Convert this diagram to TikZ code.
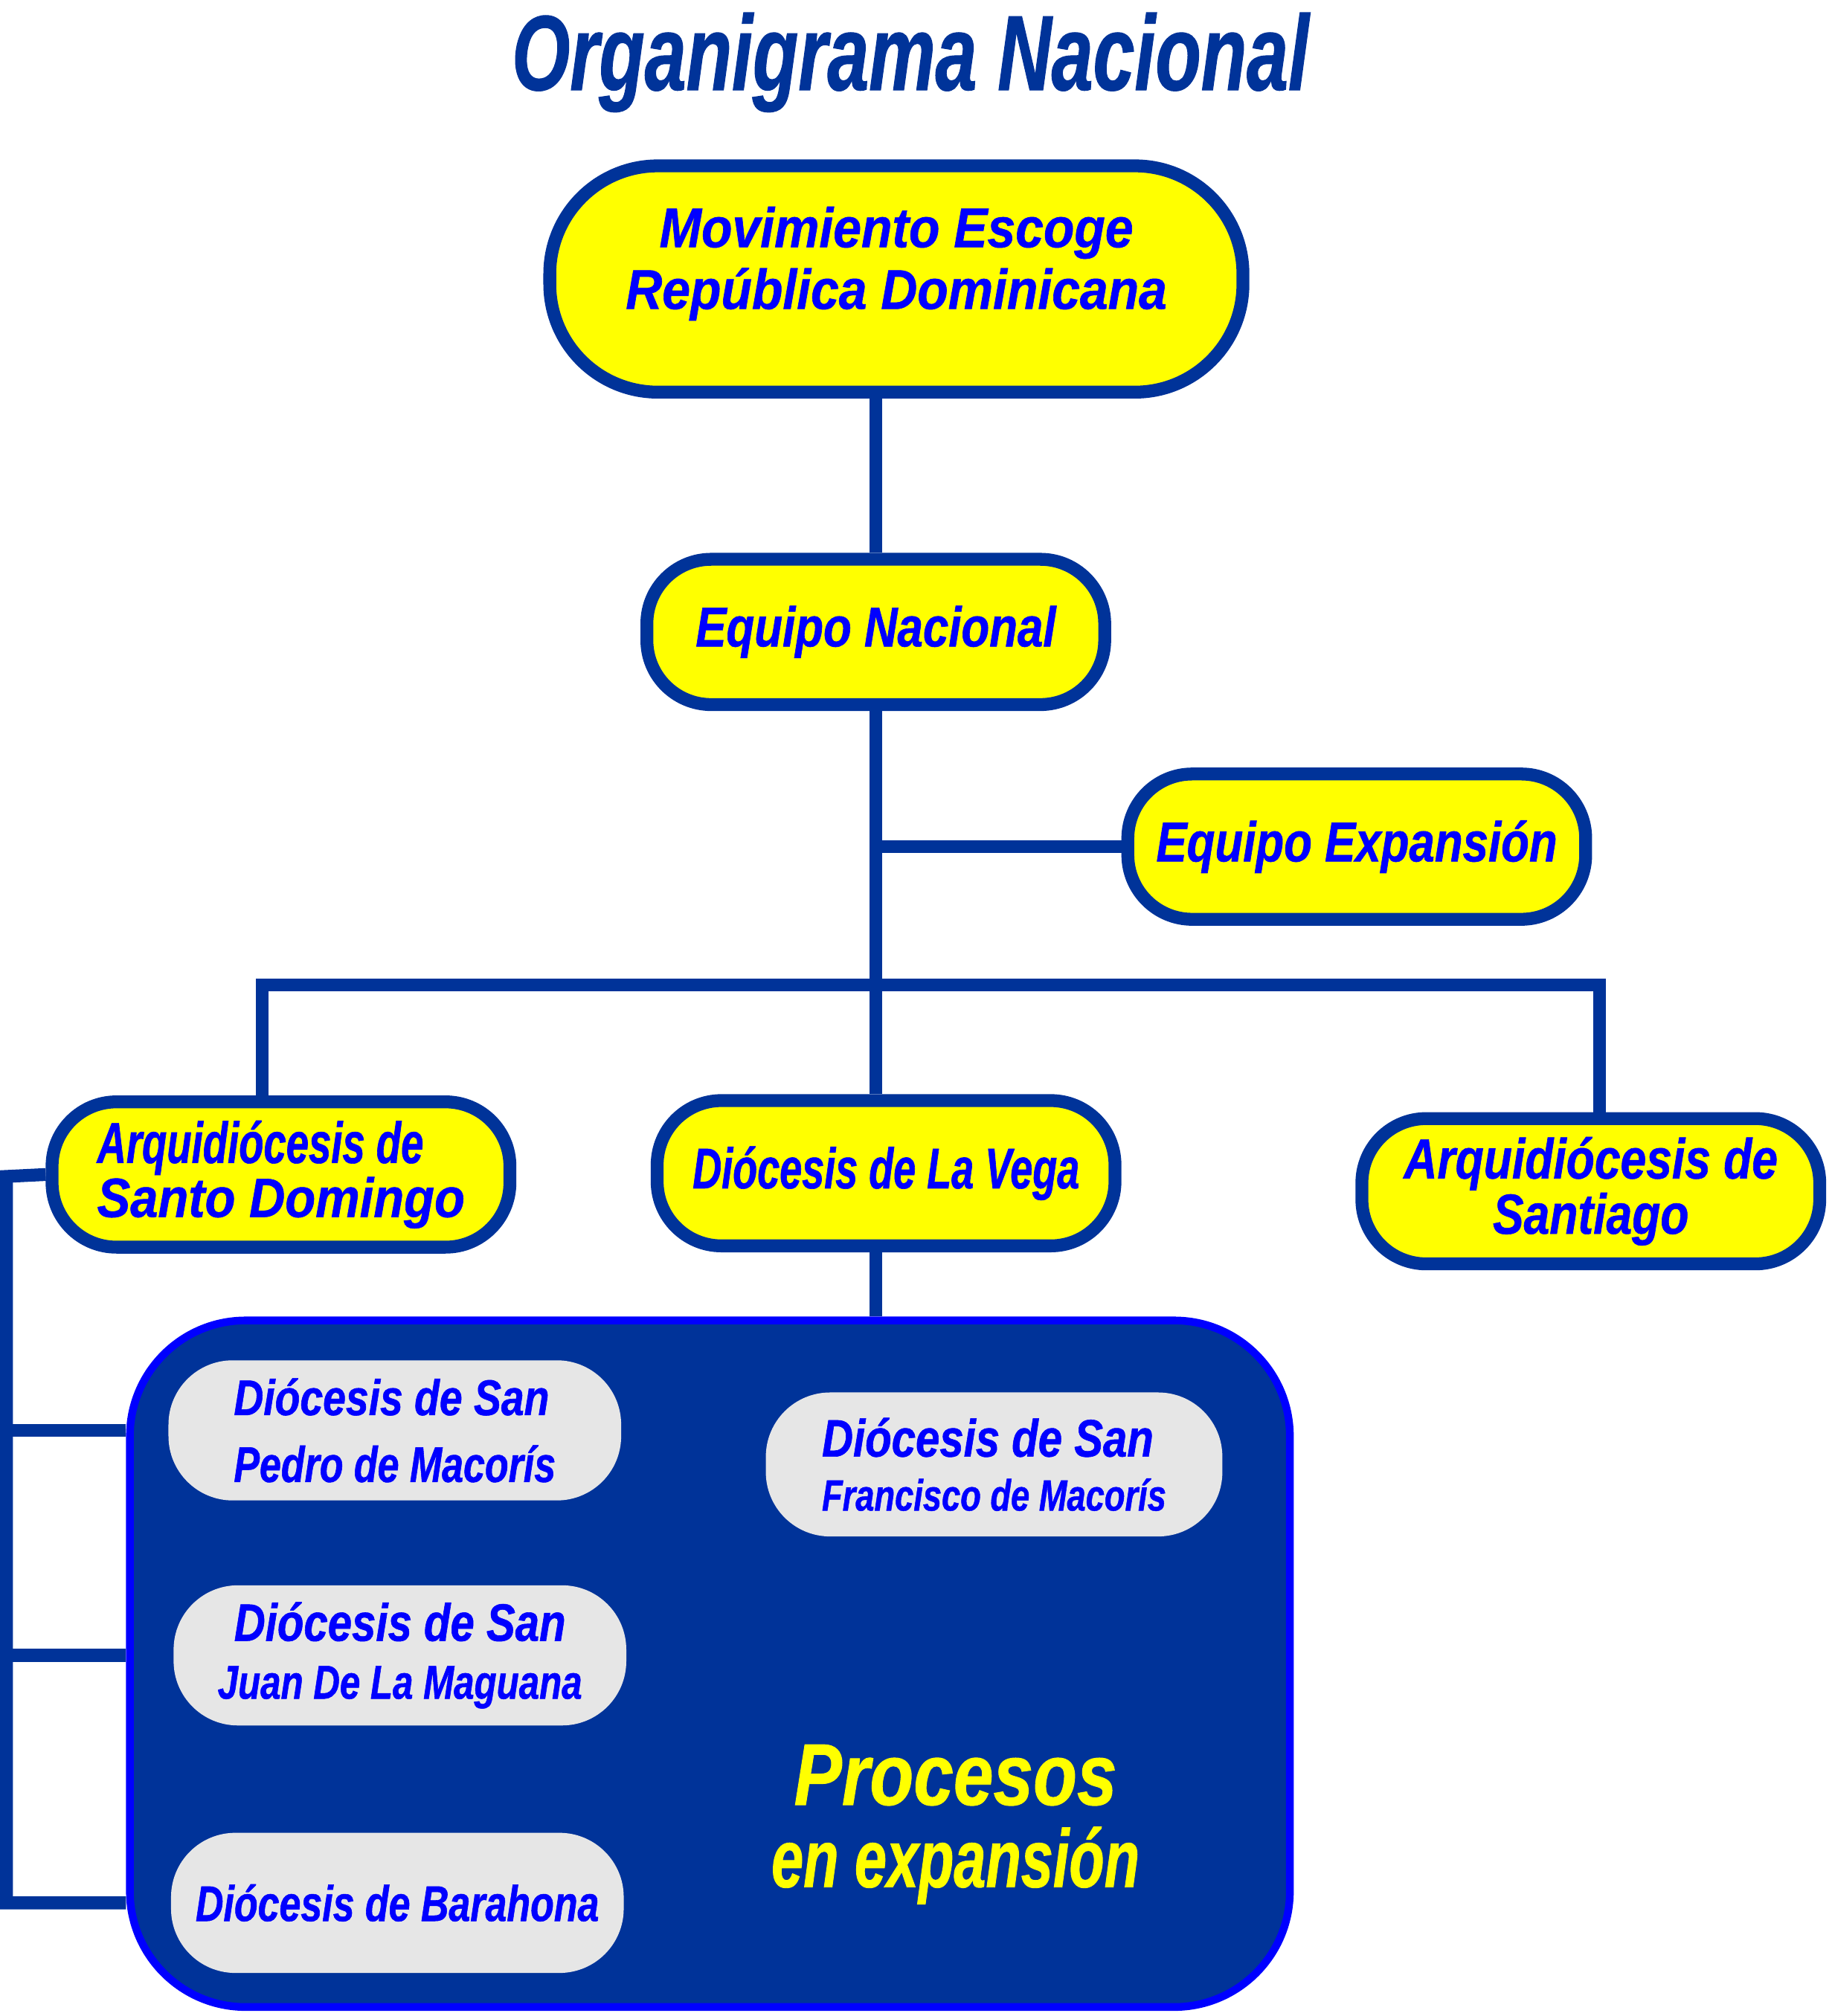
\documentclass[tikz,border=0pt]{standalone}
\usepackage{fontspec}
\setmainfont{Liberation Sans}
\newfontfamily\fontA[FakeStretch=0.90, FakeBold=0.8]{Liberation Sans}
\newfontfamily\fontB[FakeStretch=0.82, FakeBold=0.8]{Liberation Sans}
\newfontfamily\fontC[FakeStretch=0.77, FakeBold=0.8]{Liberation Sans}
\newfontfamily\fontD[FakeStretch=0.70, FakeBold=0.8]{Liberation Sans}
\definecolor{navy}{RGB}{0,51,153}
\definecolor{gelb}{RGB}{255,255,0}
\definecolor{txtblue}{RGB}{0,0,255}
\definecolor{pale}{RGB}{230,230,230}
\newcommand{\fs}[2]{\fontsize{#1}{#2}\selectfont}
\tikzset{
  unit/.style={draw=navy, line width=5pt, fill=gelb, rounded corners=25pt,
    minimum width=178pt, minimum height=56.5pt, inner sep=0pt,
    text=txtblue, align=center},
  sub/.style={fill=pale, rounded corners=25pt, minimum width=176pt,
    minimum height=54.5pt, inner sep=0pt, text=txtblue, align=center},
  lbl/.style={text=txtblue, align=center, inner sep=0pt},
  link/.style={navy, line width=5pt},
}

\begin{document}
\begin{tikzpicture}[x=0.5pt,y=-0.5pt]
    \useasboundingbox (0,0) rectangle (1424,1568);
    % title
    \node[anchor=base, text=navy, font=\bfseries\itshape\fontD\fs{41.5}{48}] (title) at (708,70)
      {Organigrama Nacional};
    % upper levels
    \node[unit, minimum width=269.5pt, minimum height=88pt, rounded corners=42pt,
      label={[lbl, yshift=6pt, font=\bfseries\itshape\fontA\fs{21.8}{24}]center:{Movimiento Escoge\\República Dominicana}}]
      (top) at (697,217) {};
    \node[unit, font=\bfseries\itshape\fontB\fs{21.8}{24}] (nac) at (681,491.5) {Equipo Nacional};
    \node[unit, font=\bfseries\itshape\fontB\fs{21.8}{24}] (exp) at (1055,658.5) {Equipo Expansión};
    \node[unit, align=left, font=\bfseries\itshape\fontD\fs{22.5}{21}] (sd) at (218.5,913.5)
      {Arquidiócesis de\\\fontA\fs{21.5}{21}Santo Domingo};
    \node[unit, font=\bfseries\itshape\fontD\fs{22.3}{24}] (vega) at (689,912.5) {Diócesis de La Vega};
    \node[unit, font=\bfseries\itshape\fontB\fs{22}{19}] (stgo) at (1237,926.5)
      {Arquidiócesis de\\Santiago};
    % zone in expansion
    \node[draw=txtblue, line width=3pt, fill=navy, rounded corners=45pt,
      minimum width=451pt, minimum height=267pt] (zone) at (552,1294) {};
    \node[sub, align=left, font=\bfseries\itshape\fontB\fs{19.5}{26}] (pedro) at (307,1112.5)
      {Diócesis de San\\\fontC Pedro de Macorís};
    \node[sub, align=left, minimum width=177.5pt, minimum height=56pt,
      font=\bfseries\itshape\fontB\fs{20.5}{21}] (fran) at (773,1139)
      {Diócesis de San\\\fontC\fs{17}{21}Francisco de Macorís};
    \node[sub, font=\bfseries\itshape\fontB\fs{20.5}{22.5}] (juan) at (311,1287.5)
      {Diócesis de San\\\fontC\fs{18.5}{22.5}Juan De La Maguana};
    \node[sub, font=\bfseries\itshape\fontC\fs{19.5}{22}] (bara) at (309,1480) {Diócesis de Barahona};
    \node[lbl, text=gelb, font=\bfseries\itshape\fontB\fs{34}{32}] (proc) at (743,1419)
      {Procesos\\\fontD\fs{32}{32}en expansión};
    % connectors
    \draw[link] (nac.north) -- (nac.north |- top.south);
    \draw[link] (nac.south) -- (nac.south |- vega.north);
    \draw[link] (exp.west) -- (exp.west -| nac.south);
    \coordinate (busL) at (204,766);
    \coordinate (busR) at (1244,766);
    \draw[link] (sd.north -| busL) -- (busL) -- (busR) -- (stgo.north -| busR);
    \draw[link] (nac.south |- vega.south) -- (nac.south |- zone.north);
    \coordinate (brk) at (5,915);
    \draw[link] (sd.west) -- (brk) -- (brk |- bara) -- (bara -| zone.west);
    \draw[link] (brk |- pedro) -- (pedro -| zone.west);
    \draw[link] (brk |- juan) -- (juan -| zone.west);
\end{tikzpicture}
\end{document}
